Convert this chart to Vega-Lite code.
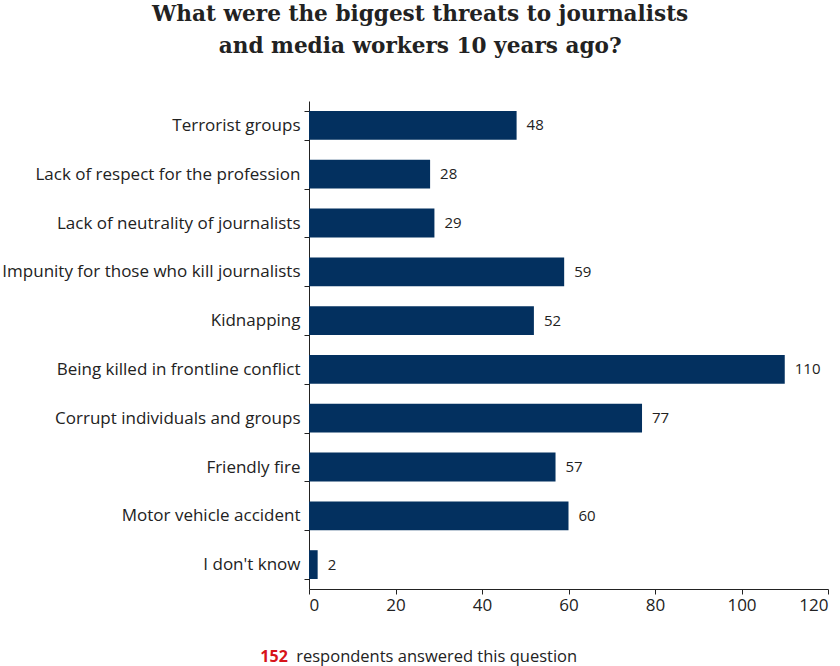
{
  "$schema": "https://vega.github.io/schema/vega-lite/v6.json",
  "background": "white",
  "padding": {"left": 1, "top": 4, "right": 2, "bottom": 0},
  "title": {
    "text": ["What were the biggest threats to journalists", "and media workers 10 years ago?"],
    "font": "DejaVu Serif",
    "fontSize": 21.6,
    "fontWeight": "bold",
    "color": "#222222",
    "lineHeight": 32,
    "anchor": "middle",
    "dx": 5,
    "offset": 34
  },
  "config": {
    "view": {"stroke": null},
    "font": "Open Sans",
    "concat": {"spacing": 36}
  },
  "vconcat": [
    {
      "width": 519,
      "height": 488,
      "data": {
        "values": [
          {"threat": "Terrorist groups", "count": 48},
          {"threat": "Lack of respect for the profession", "count": 28},
          {"threat": "Lack of neutrality of journalists", "count": 29},
          {"threat": "Impunity for those who kill journalists", "count": 59},
          {"threat": "Kidnapping", "count": 52},
          {"threat": "Being killed in frontline conflict", "count": 110},
          {"threat": "Corrupt individuals and groups", "count": 77},
          {"threat": "Friendly fire", "count": 57},
          {"threat": "Motor vehicle accident", "count": 60},
          {"threat": "I don't know", "count": 2}
        ]
      },
      "encoding": {
        "y": {
          "field": "threat",
          "type": "nominal",
          "sort": null,
          "scale": {"paddingInner": 0.41, "paddingOuter": 0.205},
          "axis": {
            "title": null,
            "tickBand": "extent",
            "tickSize": 5,
            "tickColor": "#222222",
            "domainColor": "#222222",
            "labelFont": "Open Sans",
            "labelFontSize": 17,
            "labelColor": "#222222",
            "labelPadding": 4,
            "labelLimit": 400
          }
        },
        "x": {
          "field": "count",
          "type": "quantitative",
          "scale": {"domain": [0, 120], "nice": false},
          "axis": {
            "title": null,
            "values": [0, 20, 40, 60, 80, 100, 120],
            "grid": false,
            "tickSize": 5,
            "tickColor": "#222222",
            "domainColor": "#222222",
            "labelFont": "Open Sans",
            "labelFontSize": 17,
            "labelColor": "#222222",
            "labelPadding": 3
          }
        }
      },
      "layer": [
        {"mark": {"type": "bar", "color": "#03305f"}},
        {
          "mark": {"type": "text", "align": "left", "baseline": "middle", "dx": 10, "font": "Open Sans", "fontSize": 15, "color": "#222222"},
          "encoding": {"text": {"field": "count", "type": "quantitative"}}
        }
      ]
    },
    {
      "width": 519,
      "height": 12,
      "data": {
        "values": [
          {"part": "152", "pos": -4.9, "kind": "num"},
          {"part": "respondents answered this question", "pos": -2.95, "kind": "text"}
        ]
      },
      "encoding": {
        "x": {"field": "pos", "type": "quantitative", "scale": {"domain": [0, 120], "nice": false}, "axis": null},
        "text": {"field": "part", "type": "nominal"}
      },
      "layer": [
        {
          "transform": [{"filter": "datum.kind === 'num'"}],
          "mark": {"type": "text", "align": "right", "baseline": "middle", "font": "Open Sans", "fontSize": 16, "fontWeight": "bold", "color": "#d7141a"}
        },
        {
          "transform": [{"filter": "datum.kind === 'text'"}],
          "mark": {"type": "text", "align": "left", "baseline": "middle", "font": "Open Sans", "fontSize": 16.5, "color": "#222222"}
        }
      ]
    }
  ]
}
